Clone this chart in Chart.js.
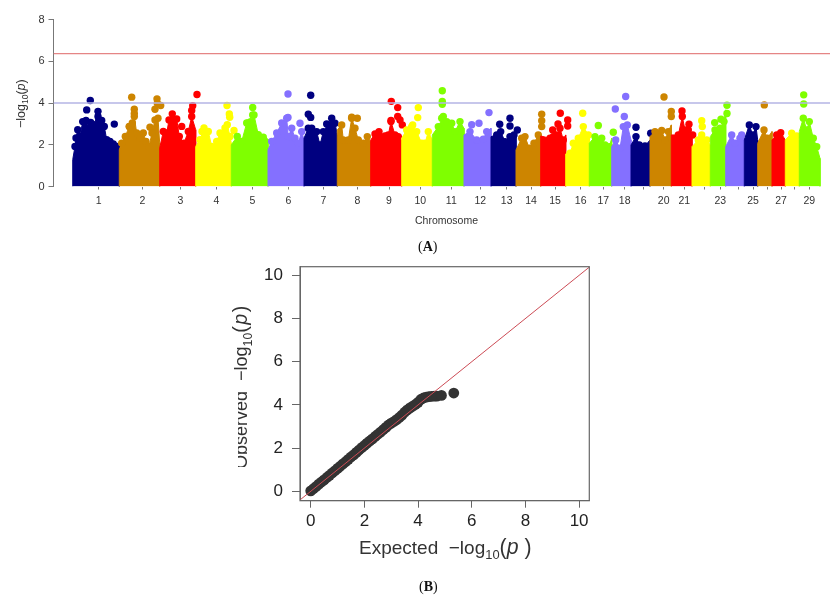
<!DOCTYPE html>
<html>
<head>
<meta charset="utf-8">
<title>Manhattan and QQ plot</title>
<script src="https://cdn.jsdelivr.net/npm/chart.js@4"></script>
<style>
  body { margin: 0; background: #fff; width: 830px; height: 597px; overflow: hidden; position: relative; }
  canvas { position: absolute; }
  .lbl { position: absolute; white-space: nowrap; font-family: "Liberation Sans", sans-serif; color: #333; }
  .lbl sub, .rot sub { font-size: 68%; line-height: 0; }
  .clip { position: absolute; overflow: hidden; }
  .rot { position: absolute; left: 0; top: 0; transform-origin: 0 0; white-space: nowrap; font-family: "Liberation Sans", sans-serif; color: #333; }
  .cap { position: absolute; font-family: "Liberation Serif", serif; font-size: 14px; color: #111; }
</style>
</head>
<body>
<canvas id="manhattan" width="830" height="240" style="left:0;top:0"></canvas>
<canvas id="qq" width="390" height="310" style="left:220px;top:255px"></canvas>

<div class="clip" style="left:14px;top:77px;width:18px;height:56px">
  <div class="rot" style="font-size:12.5px;transform:translate(-0.5px,51px) rotate(-90deg)">&minus;log<sub>10</sub>(<i>p</i>)</div>
</div>
<div class="lbl" style="left:415px;top:214px;font-size:10.5px">Chromosome</div>
<div class="cap" style="left:418px;top:239px">(<b>A</b>)</div>

<!-- the source image has the tops of "Observed" and its O cut off -->
<div class="clip" style="left:230px;top:285px;width:34px;height:182px">
  <div class="rot" style="font-size:18px;transform:translate(-0.6px,184px) rotate(-90deg)">Observed &nbsp;&minus;log<sub>10</sub><span style="font-size:110%;letter-spacing:1.5px">(<i>p</i>)</span></div>
  <div style="position:absolute;left:0;top:90px;width:7.5px;height:95px;background:#fff"></div>
</div>
<div class="lbl" style="left:359px;top:535px;font-size:19px">Expected &nbsp;&minus;log<sub>10</sub><span style="font-size:112%">(<i>p</i>&nbsp;)</span></div>
<div class="cap" style="left:419px;top:579px">(<b>B</b>)</div>

<script>
// chromosome colours repeat every 6
const palette = ['#000080', '#cd8500', '#ff0000', '#ffff00', '#7fff00', '#8470ff'];

const chromTicks = [25.7, 69.3, 107.3, 143.3, 179.3, 215.3, 250.3, 284.3, 316, 347.3, 378.3, 407.3, 433.7, 458, 482,
  507.7, 530.3, 551.7, 570.3, 590.7, 611.3, 631.3, 647.3, 665.3, 680, 694, 708, 721.3, 736.3];
const chromLabels = ['1', '2', '3', '4', '5', '6', '7', '8', '9', '10', '11', '12', '13', '14', '15',
  '16', '17', '18', '', '20', '21', '', '23', '', '25', '', '27', '', '29'];

const yTicksA = [0, 2, 4, 6, 8];
const suggestiveLine = 4.0;
const genomeWideLine = 6.37;

// upper outline of the dense part of each chromosome [position, -log10 p]
const outlines = [
  [[-0.3,1.28],[2,1.92],[3,2.32],[4.7,2.72],[7,2.4],[9.7,3.11],[13,3.16],[15.3,2.8],[17.7,3.07],[21,2.96],[25.7,3.16],[28.7,3.16],[31.3,2.88],[33.7,2.24],[37,2.16],[40.3,2.04],[43.7,1.92],[46.3,1.76]],
  [[46.3,1.76],[48.7,2.08],[52.3,2.4],[56.3,2.88],[59.3,3.04],[61.3,3.35],[63.7,2.56],[67,2.32],[70.3,2.56],[73,2.16],[76,1.92],[79,2.56],[82,3.19],[85,3.27],[86.7,2.08]],
  [[86.7,1.84],[90.3,2.64],[93.7,2.56],[96,3.19],[99.3,3.48],[103.7,3.23],[106.3,2.4],[111,2.08],[115.3,2.64],[118.7,3.35],[122.7,2.72]],
  [[122.7,1.92],[127,2.24],[131,2.8],[135.3,2.64],[138.7,1.92],[143.7,2.16],[147,2.56],[152,2.8],[154.3,2.96],[157,2.4],[158.3,2.08]],
  [[158.3,2],[164.3,2.4],[168.7,2.16],[173.7,3.04],[177.7,3.11],[181,3.43],[185.3,2.48],[190.3,2.36],[195,2.27]],
  [[195,1.76],[198.7,2.16],[203.7,2.56],[208.7,3.04],[213.7,3.27],[215.3,2.39],[218.7,2.79],[222,2.31],[225.3,2.07],[228.7,2.63],[231,2.23]],
  [[231,2.31],[235.3,2.79],[238.7,2.79],[243.7,2.63],[247,1.99],[250.3,2.63],[255.3,2.95],[258.7,3.27],[262,3.03],[264.3,2.47]],
  [[264.3,2.71],[268.7,2.95],[270.3,2.23],[275.3,2.23],[278.7,3.27],[282,2.79],[285.3,2.23],[290.3,2.07],[294.3,2.39],[297.7,2.15]],
  [[297.7,2.23],[302,2.52],[306,2.63],[312,2.42],[315.3,2.47],[318,3.11],[322,2.47],[325.3,2.39],[328.7,2.23]],
  [[328.7,2.31],[333.7,2.71],[338.7,2.87],[343.7,2.63],[348.7,2.07],[352,2.07],[355.3,2.63],[359.3,2.23]],
  [[359.3,2.47],[365.3,2.87],[370.3,3.35],[373.7,3.11],[378.7,3.03],[382,2.63],[387,3.11],[391,2.79]],
  [[391,2.47],[397,2.63],[403.7,2.23],[410.3,2.26],[413.7,2.63],[418,2.79]],
  [[418,2.39],[423.7,2.47],[427.7,2.63],[432,2.15],[437,2.39],[441,2.47],[443,2.71]],
  [[443,1.75],[448.7,2.31],[452,2.39],[456.3,1.83],[461,2.07],[465.3,2.47],[467.7,2.31]],
  [[467.7,2.42],[477,2.31],[480.3,2.39],[483.7,2.47],[487,2.79],[490.3,2.23],[492.7,2.47]],
  [[492.7,1.56],[497,1.59],[500.3,2.07],[505.3,2.31],[510.3,2.87],[515.3,2.47],[516.3,2.39]],
  [[516.3,2.07],[522,2.39],[528.7,2.31],[532,1.99],[536.3,1.91],[538.7,2.31]],
  [[538.7,1.91],[542.7,2.23],[547,1.83],[550.3,2.87],[554.3,2.95],[558,2.23]],
  [[558,1.99],[563,2.39],[566.3,1.99],[572,1.94],[577,2.23]],
  [[577,2.39],[582,2.63],[588.7,2.68],[592,2.23],[595.3,2.63],[598.3,2.95]],
  [[598.3,2.47],[605.3,2.47],[609.3,3.35],[612,2.71],[615.3,2.71],[619,2.31]],
  [[619,1.91],[625.3,2.23],[628.7,2.47],[633.7,2.23],[637.3,1.99]],
  [[637.3,2.39],[642,2.71],[647,2.79],[651,3.11],[652.7,3.67]],
  [[652.7,1.91],[658.7,2.47],[662,2.07],[667,2.31],[671.3,2.31]],
  [[671.3,2.23],[676.3,2.95],[679.7,2.47],[683,2.87],[684.7,2.23]],
  [[684.7,2.07],[691,2.71],[694.3,2.31],[699,2.63]],
  [[699,2.23],[703.7,2.47],[707.7,2.58],[712.3,2.23]],
  [[712.3,2.23],[718.7,2.55],[723.7,2.42],[726.3,2.23]],
  [[726.3,2.63],[730.3,3.27],[733.7,2.71],[736.3,3.11],[740.3,2.31],[743.7,1.91],[747,1.35]]
];

// separate SNPs standing above the outline
const peaks = [
  [[17.3,4.12],[13.7,3.67],[25,3.6],[25,3.35],[41.3,2.99]],
  [[58.7,4.28],[84,4.2],[61.3,3.7],[61.3,3.5],[84.3,3.99],[87.7,3.88],[82,3.7],[77,2.84],[56.3,2.87]],
  [[124,4.41],[119.7,3.87],[118.7,3.64],[108.7,2.88]],
  [[129,2.64],[161,2.68],[156.3,3.47],[156.7,3.32],[154,3.88]],
  [[179.7,3.79],[179.7,3.43],[175.3,3.04]],
  [[215,4.43],[227,3.03],[215,3.31]],
  [[237.7,4.37],[235.3,3.46],[237.7,3.31],[253.7,3]],
  [[284.3,3.27],[278.7,3.32]],
  [[318.3,4.08],[324.7,3.78],[324.7,3.35],[327,3.19],[329.3,2.95],[318,3.16]],
  [[345.3,3.78],[344.7,3.3],[339.7,2.95]],
  [[369.3,4.59],[369.3,4.08],[369.3,3.94],[368.7,3.27]],
  [[398.7,2.96],[406,3.03],[416,3.54]],
  [[426.7,2.98],[437,3.27],[437,2.9],[444.3,2.71]],
  [[468.7,3.46],[468.7,3.15],[468.7,2.87]],
  [[487.3,3.51],[485,3],[479.7,2.71],[494.7,3.19],[494.7,2.9]],
  [[509.7,3.51]],
  [[525.3,2.92],[540.3,2.6]],
  [[552.7,4.31],[542.3,3.71],[551.3,3.35]],
  [[563,2.84],[577.7,2.55]],
  [[591,4.29],[598.3,3.59],[598.3,3.35]],
  [[609,3.62],[616,2.98],[619.7,2.47]],
  [[628.7,3.15],[629.3,2.87]],
  [[654,3.89],[641.7,3.06],[648,3.22],[654,3.5]],
  [[668.7,2.47]],
  [],
  [[691.3,3.91]],
  [],
  [],
  [[730.7,4.39],[730.7,3.95]]
];

// QQ plot
const qqExpected = [0,0.1,0.2,0.3,0.4,0.5,0.6,0.7,0.8,0.9,1,1.1,1.2,1.3,1.4,1.5,1.6,1.7,1.8,1.9,2,2.1,2.2,2.3,2.4,2.5,2.6,2.7,2.8,2.9,3,3.1,3.2,3.3,3.4,3.5,3.6,3.7,3.8,3.9,4,4.1,4.2,4.3,4.4,4.5,4.6,4.7,4.87,5.33];
const qqObserved = [0.02,0.12,0.22,0.33,0.43,0.53,0.64,0.74,0.85,0.95,1.06,1.16,1.27,1.37,1.48,1.59,1.69,1.8,1.91,2.02,2.12,2.23,2.33,2.43,2.54,2.64,2.74,2.85,2.96,3.07,3.16,3.23,3.32,3.42,3.53,3.66,3.77,3.86,3.94,4.02,4.12,4.25,4.32,4.36,4.38,4.4,4.41,4.41,4.44,4.55];
const qqTicks = [0, 2, 4, 6, 8, 10];

Chart.defaults.font.family = '"Liberation Sans", sans-serif';
Chart.defaults.animation = false;

function noPad(s) {
  s.paddingTop = 0; s.paddingBottom = 0; s.paddingLeft = 0; s.paddingRight = 0;
}

const xMinA = -19.5, xMaxA = 757;
const datasetsA = [];
outlines.forEach(function (o, i) {
  const col = palette[i % 6];
  const first = o[0][0], last = o[o.length - 1][0];
  const pts = [[first, 0]].concat(o, [[last, 0]]);
  datasetsA.push({
    type: 'line',
    data: pts,
    borderColor: col, borderWidth: 1, backgroundColor: col,
    fill: 'origin', tension: 0, clip: 0, order: 100 - i,
    // no dots on the chromosome edges, they would spill into the neighbour
    pointRadius: function (ctx) { return (ctx.dataIndex < 2 || ctx.dataIndex > pts.length - 3) ? 0 : 3.7; },
    pointBackgroundColor: col, pointBorderWidth: 0
  });
  datasetsA.push({
    type: 'scatter',
    data: peaks[i],
    backgroundColor: col, borderWidth: 0, pointRadius: 3.7, clip: 0, order: 100 - i
  });
});
datasetsA.push({ type: 'line', data: [[xMinA, suggestiveLine], [xMaxA, suggestiveLine]], borderColor: '#b4b4e4', borderWidth: 1.5, pointRadius: 0, order: 0 });
datasetsA.push({ type: 'line', data: [[xMinA, genomeWideLine], [xMaxA, genomeWideLine]], borderColor: '#e58585', borderWidth: 1.2, pointRadius: 0, order: 0 });

new Chart(document.getElementById('manhattan'), {
  data: { datasets: datasetsA },
  options: {
    responsive: false,
    layout: { autoPadding: false, padding: { top: 19.5, left: 0, right: 0, bottom: 0 } },
    plugins: { legend: { display: false }, tooltip: { enabled: false } },
    scales: {
      x: {
        type: 'linear', min: xMinA, max: xMaxA,
        afterBuildTicks: function (s) { s.ticks = chromTicks.map(function (v) { return { value: v }; }); },
        afterFit: function (s) { s.height = 53.5; noPad(s); },
        border: { display: false },
        grid: { drawOnChartArea: false, tickLength: 3, color: '#777' },
        ticks: {
          autoSkip: false, maxRotation: 0, minRotation: 0, padding: 5, color: '#333', font: { size: 10.5 },
          callback: function (v, i) { return chromLabels[i]; }
        }
      },
      y: {
        min: 0, max: 8,
        afterBuildTicks: function (s) { s.ticks = yTicksA.map(function (v) { return { value: v }; }); },
        afterFit: function (s) { s.width = 53.5; noPad(s); },
        border: { color: '#777' },
        grid: { drawOnChartArea: false, tickLength: 5, color: '#777' },
        ticks: { padding: 4, color: '#333', font: { size: 11 } }
      }
    }
  }
});

const frame = {
  id: 'frame',
  afterDraw: function (chart) {
    const a = chart.chartArea, c = chart.ctx;
    c.save();
    c.strokeStyle = '#666';
    c.lineWidth = 1.2;
    c.strokeRect(a.left, a.top, a.right - a.left, a.bottom - a.top);
    c.restore();
  }
};

new Chart(document.getElementById('qq'), {
  data: {
    datasets: [
      { type: 'line', data: [[-0.5, -0.5], [10.5, 10.5]], borderColor: '#cc4b55', borderWidth: 1, pointRadius: 0, order: 0 },
      {
        type: 'scatter',
        data: qqExpected.map(function (x, i) { return { x: x, y: qqObserved[i] }; }),
        backgroundColor: '#333', borderWidth: 0, pointRadius: 5.4, order: 1
      }
    ]
  },
  plugins: [frame],
  options: {
    responsive: false,
    layout: { autoPadding: false, padding: { top: 11.7, left: 0, right: 20.7, bottom: 0 } },
    plugins: { legend: { display: false }, tooltip: { enabled: false } },
    scales: {
      x: {
        type: 'linear', min: -0.4, max: 10.38,
        afterBuildTicks: function (s) { s.ticks = qqTicks.map(function (v) { return { value: v }; }); },
        afterFit: function (s) { s.height = 64.3; noPad(s); },
        border: { color: '#666' },
        grid: { drawOnChartArea: false, tickLength: 7, color: '#666' },
        ticks: { maxRotation: 0, padding: 3, color: '#222', font: { size: 17 } }
      },
      y: {
        min: -0.435, max: 10.4,
        afterBuildTicks: function (s) { s.ticks = qqTicks.map(function (v) { return { value: v }; }); },
        afterFit: function (s) { s.width = 80; noPad(s); },
        border: { color: '#666' },
        grid: { drawOnChartArea: false, tickLength: 8, color: '#666' },
        ticks: { padding: 9, color: '#222', font: { size: 17 } }
      }
    }
  }
});
</script>
</body>
</html>
